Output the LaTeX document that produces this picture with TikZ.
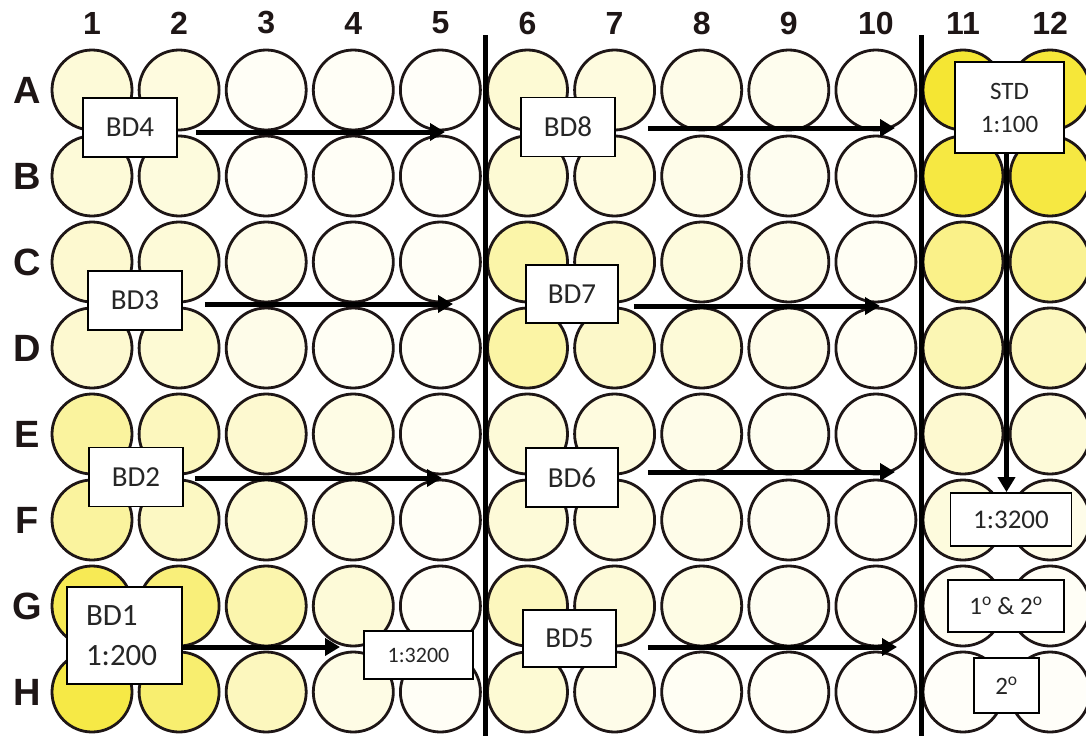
\documentclass[tikz,border=0pt]{standalone}
\usepackage{fontspec}
\setmainfont{Carlito}
\newfontfamily\platefont{Liberation Sans}
\usetikzlibrary{arrows.meta}
\definecolor{PlateYellow}{HTML}{F5E528}
\definecolor{PlateInk}{HTML}{1E1616}
\definecolor{TagInk}{HTML}{262626}
\tikzset{
  well/.style={circle, draw=PlateInk, line width=2.8pt, minimum size=80pt, inner sep=0pt},
  tag/.style={draw=black, line width=1.8pt, fill=white, text=TagInk, align=center,
    inner sep=0pt, font=\fontsize{29}{35}\selectfont},
  bdtag/.style={tag, minimum width=94pt, minimum height=59pt},
  ctrltag/.style={tag, font=\fontsize{25}{33}\selectfont},
  wire/.style={-{Triangle[length=15pt,width=17pt]}, line width=5pt},
  divider/.style={line width=5pt},
  collabel/.style={font=\platefont\bfseries\fontsize{32}{32}\selectfont, text=PlateInk},
  rowlabel/.style={font=\platefont\bfseries\fontsize{38}{38}\selectfont, text=PlateInk}
}

\begin{document}
\begin{tikzpicture}[x=1pt, y=-1pt]
  \useasboundingbox[fill=white] (0,0) rectangle (1086,736);

  % plate wells, yellow level per row
  \foreach \row/\levels [count=\r] in {
      A/{18,15,4,4,3,20,15,10,8,5,95,92},
      B/{18,16,4,4,3,20,15,10,7,5,88,88},
      C/{22,18,10,5,4,40,22,16,10,5,55,50},
      D/{22,20,10,5,4,42,25,18,10,5,35,30},
      E/{45,30,22,12,5,18,15,10,7,4,22,18},
      F/{45,28,20,12,4,18,14,10,6,4,16,10},
      G/{79,62,38,18,4,30,18,12,6,4,5,4},
      H/{86,67,30,12,4,20,10,5,4,3,3,3}} {
    \node[rowlabel] (row\row) at (27,{90+86*(\r-1)}) {\row};
    \foreach \lv [count=\c] in \levels
      \node[well, fill=PlateYellow!\lv!white] (\row\c) at ({92+87.1*(\c-1)},{90+86*(\r-1)}) {};
  }
  \foreach \c in {1,...,12}
    \node[collabel] (col\c) at ({92+87.1*(\c-1)},23) {\c};

  \draw[divider] (485,35) -- (485,736);
  \draw[divider] (921,35) -- (921,736);

  % sample dilutions
  \node[bdtag] (bd4) at (130,127.5) {BD4};
  \node[bdtag] (bd3) at (135,300.5) {BD3};
  \node[bdtag] (bd2) at (136,477) {BD2};
  \node[tag, align=left, minimum width=115pt, minimum height=97pt, text width=77pt,
    font=\fontsize{31}{40}\selectfont] (bd1) at (124.5,635.5) {BD1\\1:200};
  \node[bdtag] (bd8) at (568,127) {BD8};
  \node[bdtag, minimum width=92pt, minimum height=58pt] (bd7) at (572,294) {BD7};
  \node[bdtag, minimum width=92pt] (bd6) at (572,477.5) {BD6};
  \node[bdtag, minimum width=93pt, minimum height=57pt] (bd5) at (569.5,638.5) {BD5};
  \node[tag, minimum width=109pt, minimum height=48pt, font=\fontsize{22}{26}\selectfont] (bd1end) at (418.5,655) {1:3200};

  \coordinate (bd4tip) at (445,132);
  \coordinate (bd3tip) at (453,304);
  \coordinate (bd2tip) at (442,478);
  \coordinate (bd1tip) at (340,647);
  \coordinate (bd8tip) at (895,128);
  \coordinate (bd7tip) at (880,306);
  \coordinate (bd6tip) at (895,472);
  \coordinate (bd5tip) at (897,647);
  \draw[wire, shorten <=18pt] (bd4.east |- bd4tip) -- (bd4tip);
  \draw[wire, shorten <=22pt] (bd3.east |- bd3tip) -- (bd3tip);
  \draw[wire, shorten <=11pt] (bd2.east |- bd2tip) -- (bd2tip);
  \draw[wire] (bd1.east |- bd1tip) -- (bd1tip);
  \draw[wire, shorten <=32pt] (bd8.east |- bd8tip) -- (bd8tip);
  \draw[wire, shorten <=15pt] (bd7.east |- bd7tip) -- (bd7tip);
  \draw[wire, shorten <=29pt] (bd6.east |- bd6tip) -- (bd6tip);
  \draw[wire, shorten <=31pt] (bd5.east |- bd5tip) -- (bd5tip);

  % standard curve and controls
  \node[ctrltag, minimum width=109pt, minimum height=91pt] (std) at (1009.5,107.5) {STD\\1:100};
  \node[ctrltag, minimum width=121pt, minimum height=53pt, font=\fontsize{27}{32}\selectfont] (std3200) at (1011,519.5) {1:3200};
  \node[ctrltag, minimum width=116pt, minimum height=52pt] (both) at (1006,606) {1\textsuperscript{o} \& 2\textsuperscript{o}};
  \node[ctrltag, minimum width=65pt, minimum height=55pt] (second) at (1006.5,685.5) {2\textsuperscript{o}};
  \draw[wire] ([xshift=-3pt]std.south) -- ([xshift=-3pt]std.south |- std3200.north);
\end{tikzpicture}
\end{document}
